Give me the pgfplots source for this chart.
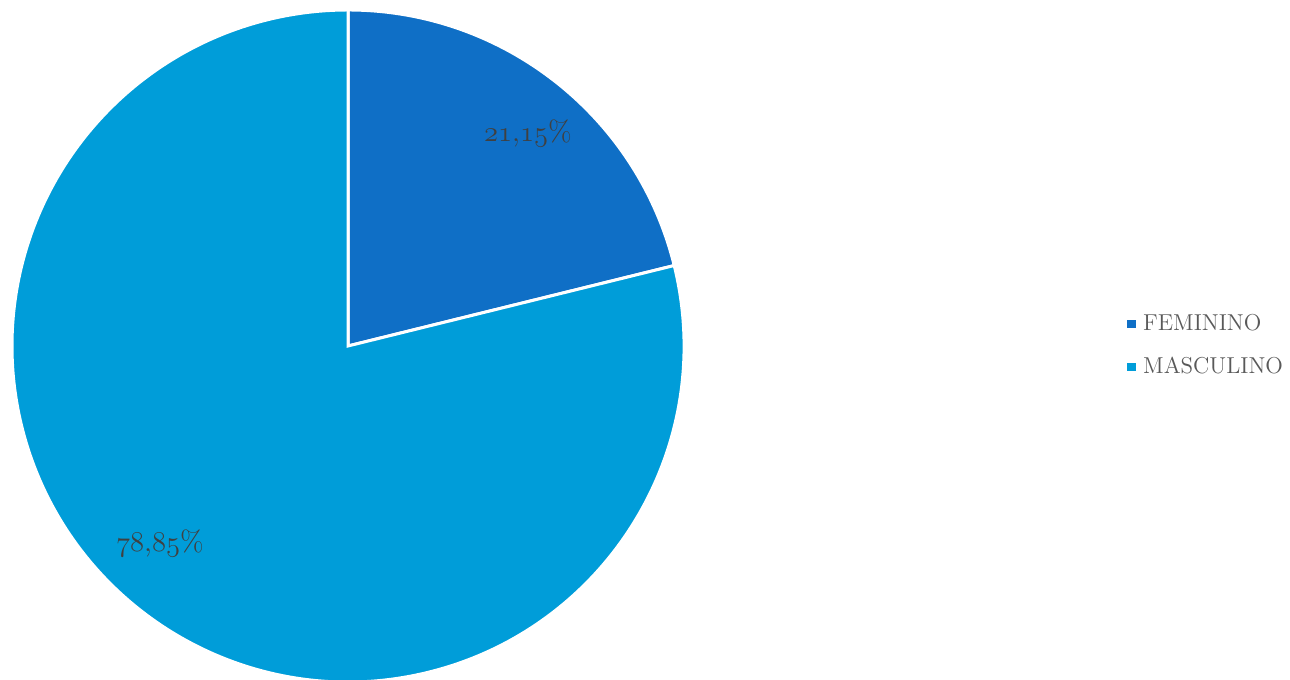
\documentclass[border=0pt]{standalone}
\usepackage{pgfplots}
\pgfplotsset{compat=1.18}
\usepackage{pgfplotstable}
\usepackage{xcolor}

\definecolor{femcol}{HTML}{0F6FC6}
\definecolor{mascol}{HTML}{009DD9}
\definecolor{labtxt}{HTML}{404040}
\definecolor{legtxt}{HTML}{595959}

% old-style figures as in the original chart
\newcommand{\osn}[1]{{\fontencoding{OML}\fontfamily{cmm}\fontseries{m}\fontshape{it}\selectfont #1}}

\pgfplotstableread{
label value
FEMININO 21.15
MASCULINO 78.85
}\sexdata

\begin{document}
\begin{tikzpicture}
\pgfplotstablegetelem{0}{value}\of\sexdata \let\vfem\pgfplotsretval
\pgfplotstablegetelem{1}{value}\of\sexdata \let\vmas\pgfplotsretval
\pgfmathsetmacro\aend{90-3.6*\vfem}
\pgfmathsetmacro\mend{\aend-3.6*\vmas}
\begin{axis}[
    name=pie,
    x=0.5bp, y=0.5bp,
    xmin=0, xmax=1290,
    ymin=0, ymax=679,
    hide axis,
    clip=true,
    legend style={at={(axis cs:1127,333.5)}, anchor=west, draw=none, fill=none,
        font=\fontsize{11.5bp}{13bp}\selectfont, text=legtxt, row sep=8bp,
        inner sep=0pt},
    legend cell align=left,
]
\addlegendimage{legend image code/.code={\fill[femcol] (0bp,-1.8bp) rectangle (3.6bp,1.8bp); \path (5.5bp,0);}}
\addlegendentry{FEMININO}
\addlegendimage{legend image code/.code={\fill[mascol] (0bp,-1.8bp) rectangle (3.6bp,1.8bp); \path (5.5bp,0);}}
\addlegendentry{MASCULINO}

% slices
\filldraw[fill=femcol, draw=white, line width=1.5bp, line join=miter]
    (axis cs:348,333) -- ++(90:168bp) arc[start angle=90, end angle=\aend, radius=168bp] -- cycle;
\filldraw[fill=mascol, draw=white, line width=1.5bp, line join=miter]
    (axis cs:348,333) -- ++(\aend:168bp) arc[start angle=\aend, end angle=\mend, radius=168bp] -- cycle;

% data labels
\node[text=labtxt, font=\fontsize{14.5bp}{16bp}\selectfont] at (axis cs:528,546) {\osn{21},\osn{15}\%};
\node[text=labtxt, font=\fontsize{14.5bp}{16bp}\selectfont] at (axis cs:160,136) {\osn{78},\osn{85}\%};
\end{axis}
\pgfresetboundingbox
\path[use as bounding box] (pie.south west) rectangle (pie.north east);
\end{tikzpicture}
\end{document}
